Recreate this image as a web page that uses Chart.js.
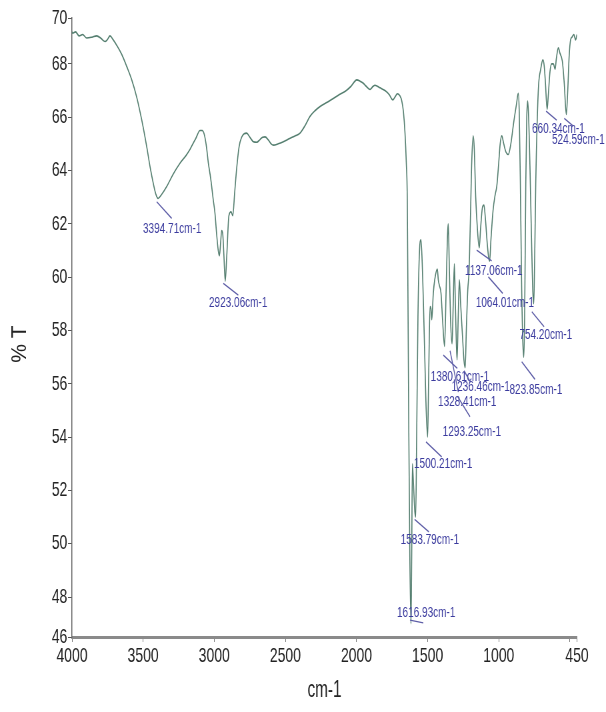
<!DOCTYPE html>
<html>
<head>
<meta charset="utf-8">
<script src="https://cdn.jsdelivr.net/npm/chart.js@4.4.1/dist/chart.umd.min.js"></script>
<style>
  html, body { margin: 0; padding: 0; background: #fff; }
</style>
</head>
<body>
<canvas id="spectrum" width="909" height="712" style="display:block;width:606px;height:712px"></canvas>
<script>
// IR scan: wavenumber (cm-1) -> %T
var wavenumbers = [
  4000, 3995, 3975, 3950, 3925, 3897, 3860, 3826, 3795, 3768, 3750, 3733, 3710, 3686, 3650, 3615,
  3580, 3545, 3510, 3475, 3450, 3428, 3410, 3395, 3370, 3334, 3290, 3241, 3200, 3170, 3130, 3100,
  3085, 3070, 3055, 3042, 3025, 3007, 2995, 2983, 2972, 2964, 2955, 2948, 2940, 2932, 2923, 2912,
  2897, 2882, 2870, 2856, 2842, 2825, 2807, 2790, 2772, 2750, 2725, 2701, 2680, 2660, 2643, 2620,
  2600, 2584, 2550, 2514, 2470, 2430, 2397, 2360, 2327, 2290, 2256, 2210, 2163, 2120, 2081, 2040,
  1998, 1975, 1952, 1930, 1905, 1885, 1870, 1835, 1800, 1770, 1745, 1730, 1713, 1695, 1682, 1670,
  1659, 1650, 1643, 1638, 1632, 1625, 1617, 1612, 1607, 1600, 1590, 1584, 1577, 1568, 1557, 1547,
  1540, 1530, 1520, 1510, 1500, 1492, 1483, 1476, 1471, 1460, 1450, 1432, 1425, 1418, 1406, 1395,
  1381, 1370, 1360, 1355, 1348, 1338, 1328, 1320, 1312, 1305, 1298, 1293, 1285, 1277, 1268, 1255,
  1245, 1236, 1228, 1218, 1209, 1200, 1190, 1180, 1172, 1162, 1150, 1137, 1128, 1115, 1104, 1094,
  1080, 1070, 1064, 1055, 1040, 1025, 1014, 1000, 990, 979, 965, 950, 933, 915, 895, 875,
  863, 856, 848, 840, 831, 824, 818, 810, 803, 797, 790, 780, 770, 760, 754, 748,
  740, 730, 720, 705, 690, 680, 672, 660, 652, 640, 628, 616, 604, 595, 581, 570,
  553, 540, 525, 515, 505, 495, 485, 472, 460, 450
];
var transmittance = [
  69.2, 69.15, 69.2, 69.05, 69.1, 68.97, 69.0, 69.05, 68.95, 68.84, 68.92, 69.05, 68.9, 68.7, 68.35, 67.9,
  67.4, 66.75, 65.9, 64.9, 64.1, 63.5, 63.1, 62.95, 63.1, 63.4, 63.85, 64.27, 64.55, 64.8, 65.2, 65.5,
  65.5, 65.35, 64.9, 64.3, 63.7, 62.9, 62.4, 61.6, 61.0, 60.8, 61.3, 61.75, 61.6, 60.8, 59.85, 60.8,
  62.3, 62.45, 62.3, 63.2, 64.1, 64.9, 65.25, 65.38, 65.4, 65.25, 65.08, 65.06, 65.15, 65.25, 65.26, 65.15,
  65.0, 64.95, 65.0, 65.08, 65.2, 65.3, 65.4, 65.7, 66.03, 66.25, 66.4, 66.55, 66.7, 66.85, 66.96, 67.15,
  67.4, 67.35, 67.27, 67.15, 67.04, 67.15, 67.2, 67.1, 67.0, 66.85, 66.65, 66.75, 66.88, 66.8, 66.62, 66.2,
  65.4, 64.3, 62.9, 59.0, 54.0, 49.5, 47.0, 49.5, 53.0, 52.3, 51.2, 51.0, 54.0, 58.5, 61.0, 61.4,
  60.8, 59.1, 57.0, 55.0, 54.0, 56.5, 58.9, 58.8, 58.4, 59.4, 59.9, 60.3, 59.9, 59.7, 59.4, 58.4,
  57.4, 59.5, 61.6, 62.0, 60.5, 58.3, 57.5, 59.0, 60.5, 59.0, 57.5, 56.9, 58.5, 59.9, 59.0, 57.8,
  56.9, 56.6, 58.0, 59.5, 60.2, 62.0, 64.3, 65.3, 64.8, 63.0, 61.8, 61.1, 61.8, 62.6, 62.7, 62.2,
  61.2, 60.7, 60.6, 61.4, 62.5, 63.1, 63.4, 64.3, 65.0, 65.3, 65.0, 64.7, 64.6, 65.0, 65.8, 66.5,
  66.9, 66.2, 63.5, 60.0, 57.6, 57.0, 58.5, 63.5, 66.0, 66.6, 66.0, 64.0, 61.5, 59.4, 59.0, 60.5,
  63.5, 65.8, 67.2, 67.8, 68.15, 67.9, 67.3, 66.3, 66.8, 67.7, 68.0, 68.0, 67.8, 68.2, 68.6, 68.4,
  68.1, 67.3, 66.1, 67.0, 68.3, 68.9, 69.0, 69.1, 68.9, 69.1
];

// picked peaks
var peakWavenumbers = [3394.71, 2923.06, 1616.93, 1583.79, 1500.21, 1380.61, 1328.41, 1293.25,
  1236.46, 1137.06, 1064.01, 823.85, 754.20, 660.34, 524.59];
var peakTransmittance = [62.95, 59.85, 47.0, 51.0, 54.0, 57.4, 57.5, 56.9,
  56.6, 61.1, 60.6, 57.0, 59.0, 66.3, 66.1];

var yTickValues = [46.5, 48, 50, 52, 54, 56, 58, 60, 62, 64, 66, 68, 69.72];
var yTickLabels = ['46', '48', '50', '52', '54', '56', '58', '60', '62', '64', '66', '68', '70'];
var xTickValues = [4000, 3500, 3000, 2500, 2000, 1500, 1000, 500, 450];
var xTickLabels = ['4000', '3500', '3000', '2500', '2000', '1500', '1000', '', '450'];

// the scan is horizontally compressed: draw wide, show narrow
var SX = 1.5;
var FONT = '"Liberation Sans", Arial, sans-serif';

// leader start, leader end, text left/middle -- screen px relative to the peak
var labelOffsets = [
  [-1.4, 3.3, 13.6, 19.9, -15.1, 30.3],
  [-1.9, 2.3, 13.1, 14, -16.2, 21.7],
  [-1, -3.5, 12.3, -0.8, -14, -10.5],
  [-1.1, 2.4, 13.2, 14.8, -15.1, 22.4],
  [-1.6, 4.8, 14.1, 19.8, -13.6, 27.1],
  [-1.3, 8.7, 12.7, 22, -13.9, 30.4],
  [-2, 7, 6.3, 48.4, -14, 58.1],
  [0.7, 37, 13, 57, -14.3, 72.4],
  [-1, 3, 5, 14, -13.6, 19.1],
  [-2.6, 2.3, 12.4, 13, -14.3, 23],
  [-1.3, 15.7, 13.1, 32.3, -13.9, 41.7],
  [-2.1, 4.7, 11.2, 22.3, -14.3, 32.3],
  [-1.9, 8, 10.4, 23, -14.3, 31.3],
  [-1, 2, 9.6, 11, -15.1, 20],
  [-2.1, 3.9, 6.9, 11.6, -14.4, 25.6]
];

var peakLabels = {
  id: 'peakLabels',
  afterDatasetsDraw: function (chart) {
    var ctx = chart.ctx;
    var xs = chart.scales.x, ys = chart.scales.y;
    ctx.save();
    ctx.font = '15px ' + FONT;
    ctx.textAlign = 'left';
    ctx.textBaseline = 'middle';
    ctx.lineWidth = 1.4;
    for (var i = 0; i < peakWavenumbers.length; i++) {
      var px = xs.getPixelForValue(peakWavenumbers[i]);
      var py = ys.getPixelForValue(peakTransmittance[i]);
      var o = labelOffsets[i];
      ctx.strokeStyle = '#5c5ca6';
      ctx.beginPath();
      ctx.moveTo(px + o[0] * SX, py + o[1]);
      ctx.lineTo(px + o[2] * SX, py + o[3]);
      ctx.stroke();
      ctx.fillStyle = '#3b3b9e';
      ctx.fillText(peakWavenumbers[i].toFixed(2) + 'cm-1', px + o[4] * SX, py + o[5]);
    }
    ctx.restore();
  }
};

// "% T" is not squeezed in the scan, so undo the compression for it
var yTitle = {
  id: 'yTitle',
  afterDraw: function (chart) {
    var ctx = chart.ctx;
    ctx.save();
    ctx.translate(20.5 * SX, 344);
    ctx.scale(SX, 1);
    ctx.rotate(-Math.PI / 2);
    ctx.font = '21px ' + FONT;
    ctx.fillStyle = '#222';
    ctx.textAlign = 'center';
    ctx.textBaseline = 'middle';
    ctx.fillText('% T', 0, 0);
    ctx.restore();
  }
};

var points = wavenumbers.map(function (w, i) { return { x: w, y: transmittance[i] }; });

new Chart(document.getElementById('spectrum'), {
  type: 'line',
  data: {
    datasets: [{
      data: points,
      borderColor: '#557f70',
      borderWidth: 1.6,
      pointRadius: 0,
      fill: false,
      cubicInterpolationMode: 'monotone'
    }]
  },
  options: {
    responsive: false,
    animation: false,
    devicePixelRatio: 1,
    layout: { padding: { left: 0, right: 43.5, top: 18, bottom: 0 } },
    plugins: { legend: { display: false }, tooltip: { enabled: false } },
    scales: {
      x: {
        type: 'linear',
        reverse: true,
        min: 450,
        max: 4000,
        afterBuildTicks: function (s) { s.ticks = xTickValues.map(function (v) { return { value: v }; }); },
        afterFit: function (s) { s.height = 75; },
        ticks: {
          autoSkip: false,
          maxRotation: 0,
          padding: 2,
          color: '#222',
          font: { family: FONT, size: 21 },
          callback: function (v) { return xTickLabels[xTickValues.indexOf(v)]; }
        },
        grid: { drawOnChartArea: false, drawTicks: true, tickLength: 5, color: '#777' },
        border: { display: true, color: '#8a8a8a', width: 3 },
        title: { display: true, text: 'cm-1', color: '#222', font: { family: FONT, size: 23 }, padding: { top: 0, bottom: 8 } }
      },
      y: {
        type: 'linear',
        min: 46.5,
        max: 69.72,
        afterBuildTicks: function (s) { s.ticks = yTickValues.map(function (v) { return { value: v }; }); },
        afterFit: function (s) { s.width = 108; },
        ticks: {
          autoSkip: false,
          padding: 1,
          color: '#222',
          font: { family: FONT, size: 21 },
          callback: function (v) { return yTickLabels[yTickValues.indexOf(v)]; }
        },
        grid: { drawOnChartArea: false, drawTicks: true, tickLength: 6, color: '#555' },
        border: { display: true, color: '#666', width: 1.5 }
      }
    }
  },
  plugins: [peakLabels, yTitle]
});
</script>
</body>
</html>
